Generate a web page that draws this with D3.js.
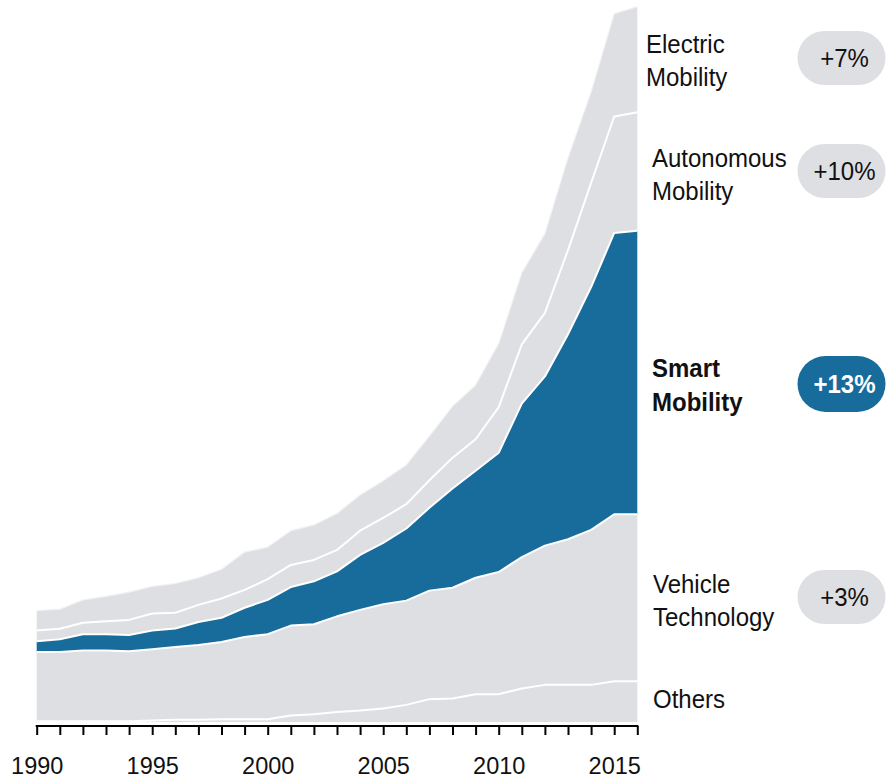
<!DOCTYPE html>
<html>
<head>
<meta charset="utf-8">
<script src="https://cdn.jsdelivr.net/npm/d3@7"></script>
<style>
  html, body { margin: 0; padding: 0; background: #ffffff; }
  svg { display: block; font-family: "Liberation Sans", Arial, sans-serif; }
</style>
</head>
<body>
<svg id="chart" width="886" height="782"></svg>
<script>
// ---- Data ----
const years = [1990,1991,1992,1993,1994,1995,1996,1997,1998,1999,2000,2001,2002,2003,2004,2005,2006,2007,2008,2009,2010,2011,2012,2013,2014,2015,2016];

const others             = [0.1,0.1,0.1,0.1,0.1,0.2,0.3,0.3,0.4,0.4,0.4,0.9,1.1,1.4,1.6,1.9,2.4,3.2,3.3,3.9,3.9,4.7,5.2,5.2,5.2,5.7,5.7];
const vehicleTechnology  = [9.7,9.7,9.9,9.9,9.8,10.0,10.2,10.5,10.8,11.5,11.9,12.6,12.6,13.4,14.1,14.6,14.6,15.2,15.5,16.3,17.1,18.4,19.5,20.4,21.7,23.4,23.4];
const smartMobility      = [1.5,1.8,2.3,2.3,2.3,2.6,2.6,3.2,3.4,4.1,4.8,5.4,6.0,6.3,7.7,8.6,10.1,11.6,13.9,15.0,16.7,21.5,23.7,28.7,34.0,39.4,39.7];
const autonomousMobility = [1.5,1.45,1.6,1.8,2.1,2.4,2.2,2.4,2.7,2.5,2.9,3.1,3.0,3.0,3.4,3.5,3.4,3.85,4.3,4.4,6.4,8.3,8.9,11.8,14.6,16.3,16.6];
const electricMobility   = [2.8,2.75,3.2,3.5,3.9,3.8,4.1,3.8,4.1,5.3,4.5,4.8,4.9,5.1,5.0,5.2,5.5,6.2,7.2,7.6,8.9,10.0,11.1,12.9,12.75,14.4,14.8];

const seriesKeys   = ["Others","Vehicle Technology","Smart Mobility","Autonomous Mobility","Electric Mobility"];
const seriesValues = [others, vehicleTechnology, smartMobility, autonomousMobility, electricMobility];

const labelLines  = [["Others"],["Vehicle","Technology"],["Smart","Mobility"],["Autonomous","Mobility"],["Electric","Mobility"]];
const growthLabels = [null, "+3%", "+13%", "+10%", "+7%"];
const tickLabelYears = [1990,1995,2000,2005,2010,2015];

// ---- Style / layout (not data) ----
const GRAY = "#dedfe3";
const BLUE = "#186c9c";
const highlightKey = "Smart Mobility";
const TEXT_STRETCH = 1.07;

const svg = d3.select("#chart");

const x = d3.scaleLinear().domain([1990, 2016]).range([36.7, 637.3]);
const y = d3.scaleLinear().domain([0, 100]).range([722, 8]);

const table = years.map((yr, i) => {
  const row = { year: yr };
  seriesKeys.forEach((k, j) => { row[k] = seriesValues[j][i]; });
  return row;
});

const stacked = d3.stack().keys(seriesKeys)(table);

const area = d3.area()
  .x(d => x(d.data.year))
  .y0(d => y(d[0]))
  .y1(d => y(d[1]));

const topLine = d3.line()
  .x(d => x(d.data.year))
  .y(d => y(d[1]));

svg.append("g").selectAll("path")
  .data(stacked)
  .join("path")
  .attr("d", area)
  .attr("fill", d => d.key === highlightKey ? BLUE : GRAY);

// separators
svg.append("g").selectAll("path")
  .data(stacked)
  .join("path")
  .attr("d", topLine)
  .attr("fill", "none")
  .attr("stroke", (d, i) => i === stacked.length - 1 ? "#f2f2f3" : "#ffffff")
  .attr("stroke-width", (d, i) => i === stacked.length - 1 ? 1.2 : 2)
  .attr("stroke-linejoin", "round");

// ---- Axis ----
const axisY = 726;
const axis = d3.axisBottom(x)
  .tickValues(years)
  .tickSize(9)
  .tickSizeOuter(0)
  .tickFormat(d => tickLabelYears.includes(d) ? String(d) : "");

const gAxis = svg.append("g")
  .attr("transform", `translate(0,${axisY})`)
  .call(axis);

gAxis.select(".domain")
  .attr("stroke", "#000")
  .attr("stroke-width", 2.2)
  .attr("d", `M${x(1990) - 1},0H${x(2016) + 1}`);
gAxis.selectAll(".tick line")
  .attr("stroke", "#000")
  .attr("stroke-width", 2);
gAxis.selectAll(".tick text")
  .attr("font-family", "Liberation Sans, Arial, sans-serif")
  .attr("font-size", 23.5)
  .attr("fill", "#111")
  .attr("y", 0)
  .attr("dy", 0)
  .attr("transform", "translate(0,48)");

// ---- Right-hand labels ----
const labelPos = [
  { x: 653, y: 708 },
  { x: 653, y: 592.5 },
  { x: 652, y: 377 },
  { x: 652, y: 166.5 },
  { x: 646, y: 52.5 }
];
const pillPos = [
  null,
  { y: 570, h: 54 },
  { y: 356, h: 56 },
  { y: 144, h: 54 },
  { y: 31, h: 54 }
];
const lineGap = 33.5;

const gLabels = svg.append("g");
seriesKeys.forEach((k, i) => {
  const bold = k === highlightKey;
  labelLines[i].forEach((ln, j) => {
    gLabels.append("text")
      .attr("transform", `translate(${labelPos[i].x},${labelPos[i].y + j * lineGap}) scale(1,${TEXT_STRETCH})`)
      .attr("font-size", 24)
      .attr("font-weight", bold ? "bold" : "normal")
      .attr("fill", "#111")
      .text(ln);
  });

  if (growthLabels[i]) {
    const p = pillPos[i];
    gLabels.append("rect")
      .attr("x", 797.5)
      .attr("y", p.y)
      .attr("width", 88)
      .attr("height", p.h)
      .attr("rx", p.h / 2)
      .attr("fill", bold ? BLUE : GRAY);
    gLabels.append("text")
      .attr("transform", `translate(844.5,${p.y + p.h / 2 + 9}) scale(1,${TEXT_STRETCH})`)
      .attr("text-anchor", "middle")
      .attr("font-size", 24)
      .attr("font-weight", bold ? "bold" : "normal")
      .attr("fill", bold ? "#ffffff" : "#111")
      .text(growthLabels[i]);
  }
});
</script>
</body>
</html>
